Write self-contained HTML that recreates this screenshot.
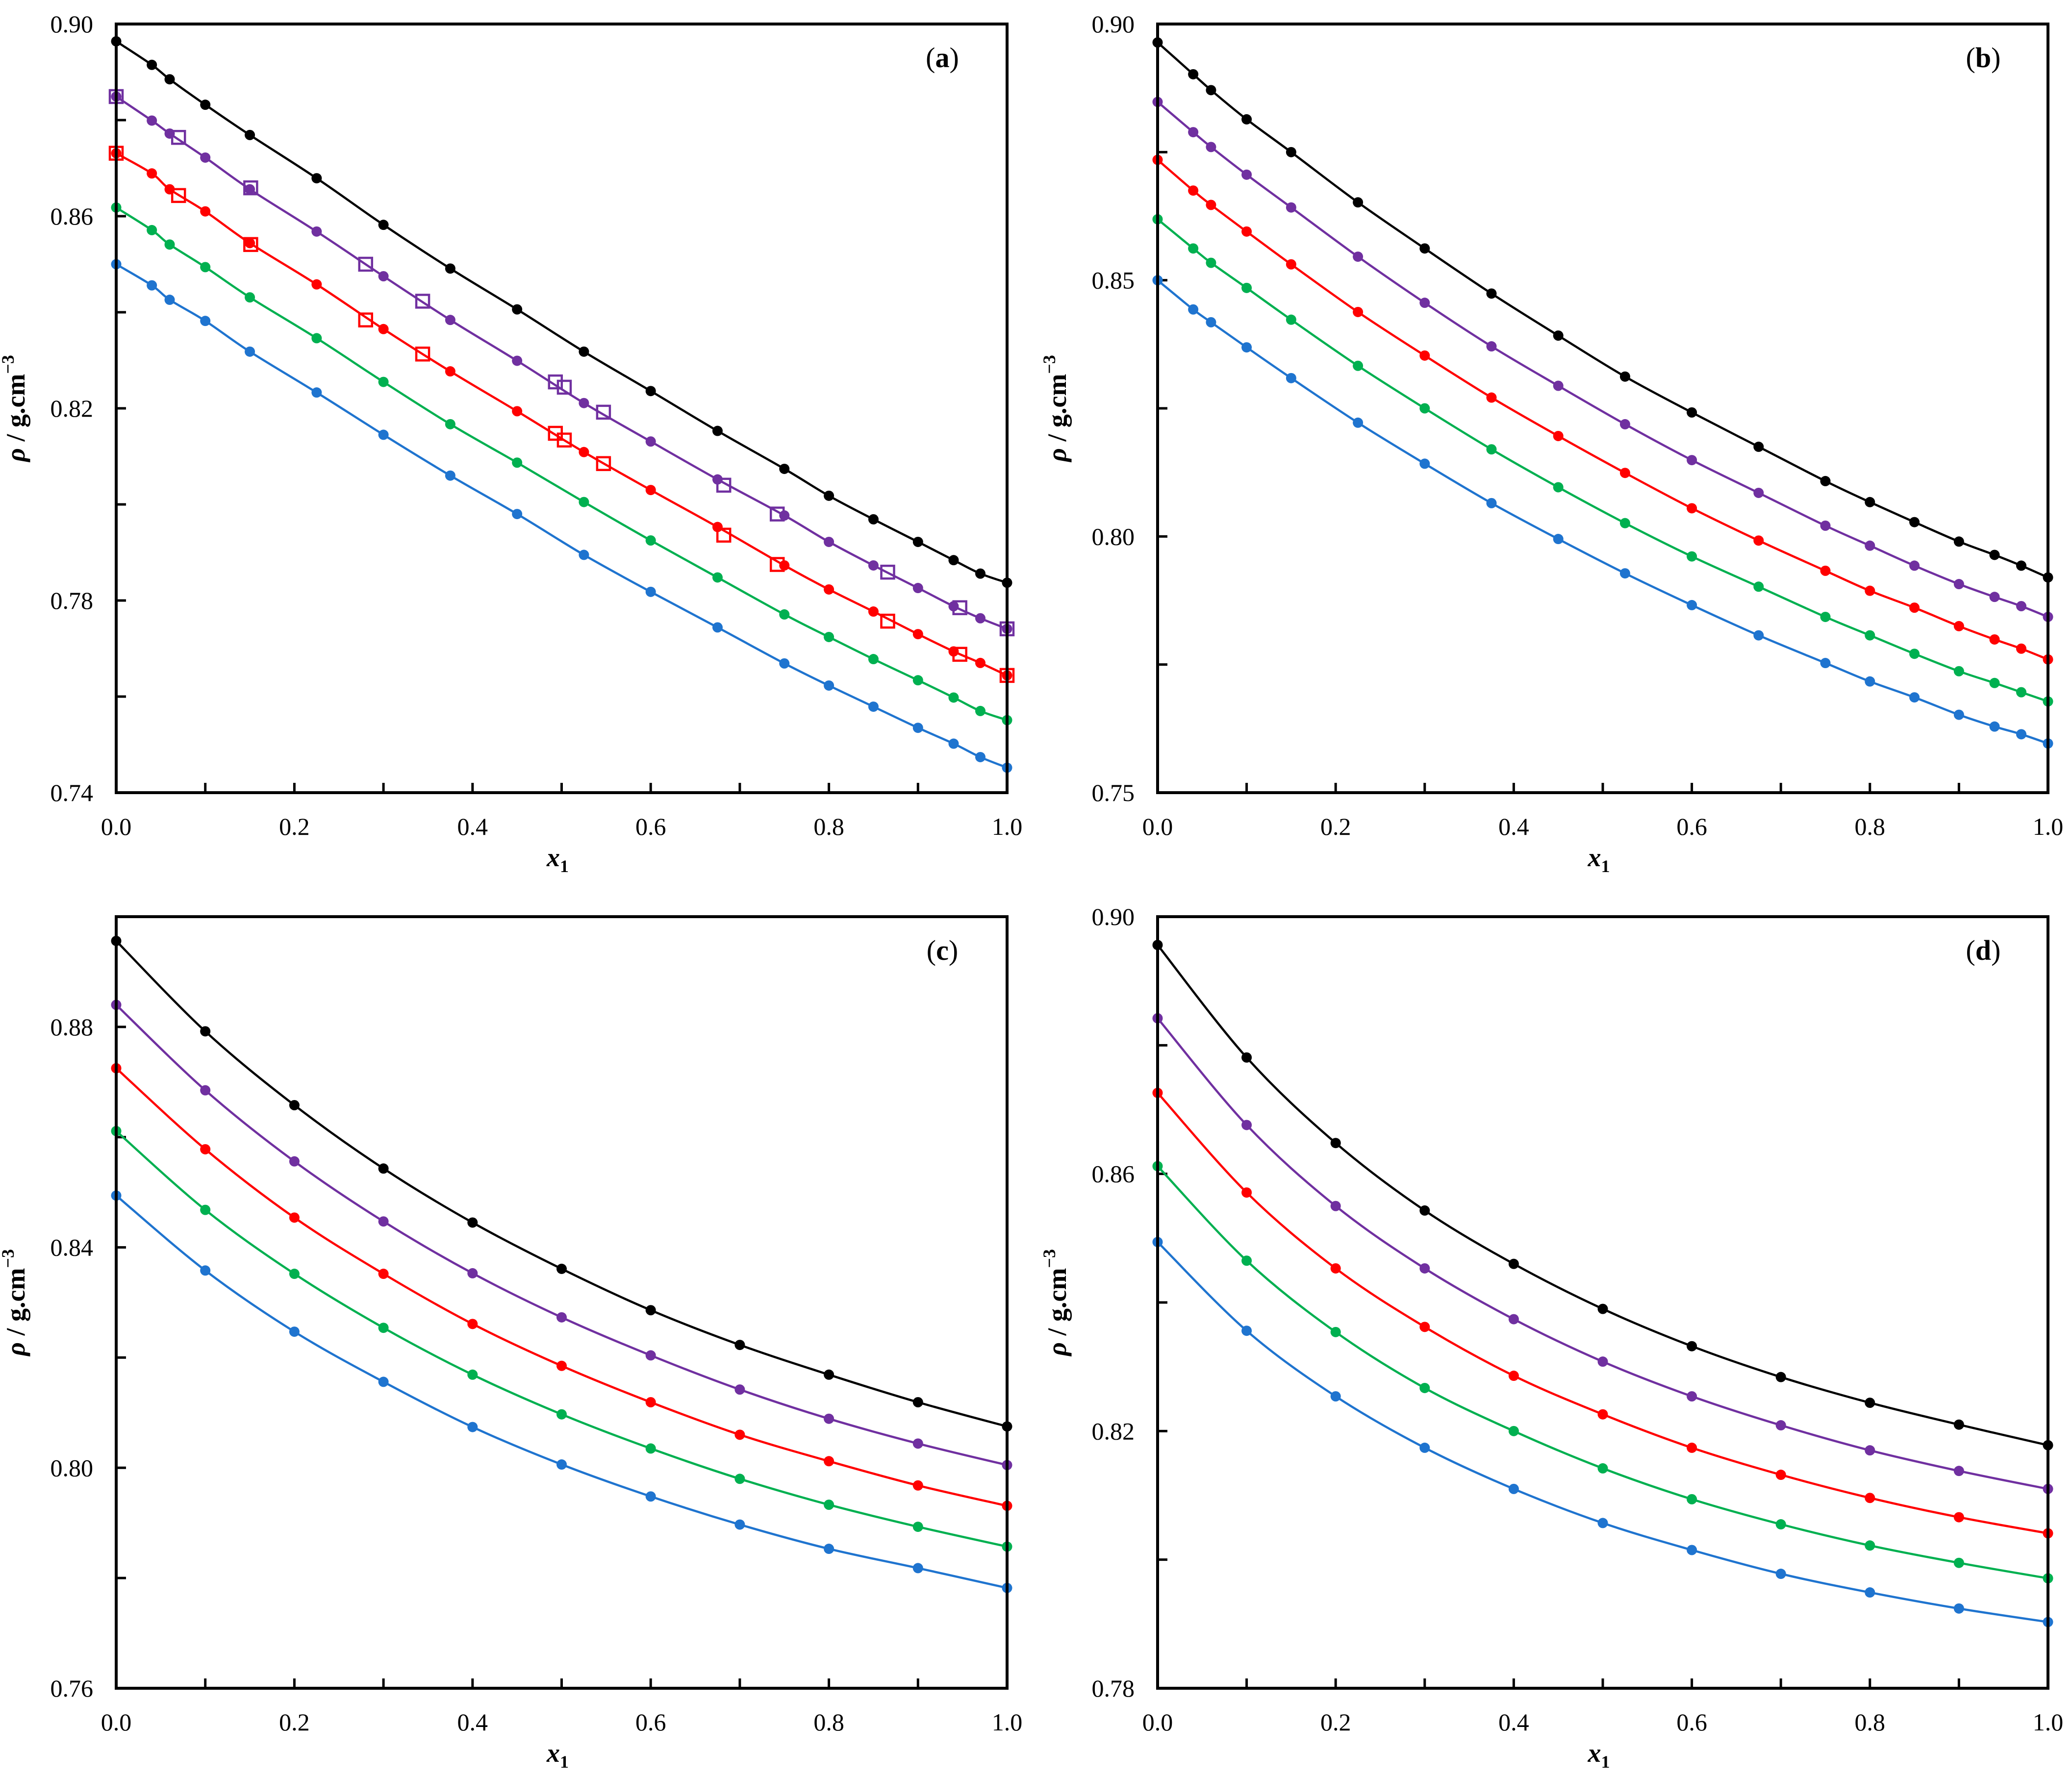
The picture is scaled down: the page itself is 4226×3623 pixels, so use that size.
<!DOCTYPE html>
<html><head><meta charset="utf-8">
<style>
html,body{margin:0;padding:0;background:#fff;}
svg{display:block;font-family:"Liberation Serif",serif;}
</style></head>
<body>
<svg id="fig" width="4226" height="3623" viewBox="0 0 4226 3623" xmlns="http://www.w3.org/2000/svg"></svg>
<script>
const xA = [0,0.04,0.06,0.1,0.15,0.225,0.3,0.375,0.45,0.525,0.6,0.675,0.75,0.8,0.85,0.9,0.94,0.97,1.0];
const xC = [0,0.1,0.2,0.3,0.4,0.5,0.6,0.7,0.8,0.9,1.0];

const aBlack  = [0.8964,0.8915,0.8885,0.8832,0.8769,0.8679,0.8582,0.8491,0.8406,0.8318,0.8236,0.8153,0.8074,0.8018,0.7969,0.7922,0.7884,0.7856,0.7837];
const aPurple = [0.8849,0.8799,0.8772,0.8722,0.8656,0.8568,0.8475,0.8384,0.8299,0.8211,0.8131,0.8052,0.7977,0.7922,0.7873,0.7826,0.7788,0.7763,0.7741];
const aRed    = [0.8731,0.8689,0.8656,0.8610,0.8544,0.8458,0.8365,0.8277,0.8194,0.8109,0.8030,0.7953,0.7873,0.7823,0.7777,0.7730,0.7694,0.7670,0.7644];
const aGreen  = [0.8618,0.8571,0.8541,0.8494,0.8431,0.8346,0.8255,0.8167,0.8087,0.8005,0.7925,0.7848,0.7771,0.7724,0.7678,0.7634,0.7598,0.7570,0.7551];
const aBlue   = [0.8500,0.8456,0.8426,0.8382,0.8318,0.8233,0.8145,0.8060,0.7980,0.7895,0.7818,0.7744,0.7669,0.7623,0.7579,0.7535,0.7502,0.7474,0.7452];

const xSq = [0,0.07,0.151,0.28,0.344,0.493,0.503,0.547,0.682,0.742,0.866,0.947,1.0];
const sqPurple = [0.8849,0.8764,0.8659,0.8500,0.8423,0.8255,0.8244,0.8192,0.8040,0.7980,0.7859,0.7785,0.7741];
const sqRed    = [0.8731,0.8643,0.8541,0.8384,0.8313,0.8148,0.8134,0.8085,0.7936,0.7875,0.7757,0.7688,0.7644];

const bBlack  = [0.8964,0.8902,0.8871,0.8814,0.8750,0.8652,0.8562,0.8474,0.8392,0.8312,0.8242,0.8175,0.8108,0.8067,0.8028,0.7990,0.7964,0.7943,0.7920];
const bPurple = [0.8848,0.8789,0.8760,0.8706,0.8642,0.8546,0.8456,0.8371,0.8294,0.8219,0.8149,0.8085,0.8021,0.7982,0.7943,0.7907,0.7882,0.7864,0.7843];
const bRed    = [0.8735,0.8675,0.8647,0.8595,0.8531,0.8438,0.8353,0.8271,0.8196,0.8124,0.8055,0.7992,0.7933,0.7894,0.7861,0.7825,0.7799,0.7781,0.7760];
const bGreen  = [0.8619,0.8562,0.8534,0.8485,0.8423,0.8333,0.8250,0.8170,0.8096,0.8026,0.7961,0.7902,0.7843,0.7807,0.7771,0.7737,0.7714,0.7696,0.7678];
const bBlue   = [0.8500,0.8443,0.8418,0.8369,0.8309,0.8222,0.8142,0.8065,0.7995,0.7928,0.7866,0.7807,0.7753,0.7717,0.7686,0.7652,0.7629,0.7614,0.7596];

const cBlack  = [0.8956,0.8792,0.8658,0.8543,0.8445,0.8361,0.8286,0.8223,0.8169,0.8119,0.8075];
const cPurple = [0.8840,0.8685,0.8556,0.8447,0.8353,0.8273,0.8204,0.8142,0.8089,0.8044,0.8005];
const cRed    = [0.8725,0.8578,0.8454,0.8352,0.8261,0.8185,0.8119,0.8060,0.8012,0.7968,0.7931];
const cGreen  = [0.8611,0.8468,0.8352,0.8254,0.8169,0.8097,0.8035,0.7980,0.7933,0.7893,0.7857];
const cBlue   = [0.8494,0.8358,0.8247,0.8156,0.8074,0.8006,0.7948,0.7897,0.7853,0.7818,0.7782];

const dBlack  = [0.8956,0.8781,0.8648,0.8543,0.8460,0.8390,0.8332,0.8284,0.8244,0.8210,0.8178];
const dPurple = [0.8842,0.8676,0.8550,0.8453,0.8374,0.8308,0.8254,0.8209,0.8170,0.8138,0.8110];
const dRed    = [0.8726,0.8571,0.8453,0.8362,0.8286,0.8226,0.8174,0.8132,0.8096,0.8066,0.8041];
const dGreen  = [0.8612,0.8465,0.8354,0.8267,0.8200,0.8142,0.8094,0.8055,0.8022,0.7995,0.7971];
const dBlue   = [0.8494,0.8356,0.8254,0.8174,0.8110,0.8057,0.8015,0.7978,0.7949,0.7924,0.7903];

const xTickLabels = ["0.0","0.2","0.4","0.6","0.8","1.0"];
const aYLabels = ["0.74","0.78","0.82","0.86","0.90"];
const bYLabels = ["0.75","0.80","0.85","0.90"];
const cYLabels = ["0.76","0.80","0.84","0.88"];
const dYLabels = ["0.78","0.82","0.86","0.90"];

const COLORS = {black:"#000000", purple:"#7030A0", red:"#FF0000", green:"#00B050", blue:"#1F74CF"};
const NS = "http://www.w3.org/2000/svg";
const svg = document.getElementById("fig");

function mk(tag, attrs, parent){
  const e = document.createElementNS(NS, tag);
  for (const k in attrs) e.setAttribute(k, attrs[k]);
  (parent||svg).appendChild(e);
  return e;
}

function smoothPath(pts){
  let d = "M" + pts[0][0].toFixed(1) + "," + pts[0][1].toFixed(1);
  for (let i=0;i<pts.length-1;i++){
    const p0 = pts[i-1]||pts[i], p1 = pts[i], p2 = pts[i+1], p3 = pts[i+2]||p2;
    const c1x = p1[0]+(p2[0]-p0[0])/6, c1y = p1[1]+(p2[1]-p0[1])/6;
    const c2x = p2[0]-(p3[0]-p1[0])/6, c2y = p2[1]-(p3[1]-p1[1])/6;
    d += " C"+c1x.toFixed(1)+","+c1y.toFixed(1)+" "+c2x.toFixed(1)+","+c2y.toFixed(1)+" "+p2[0].toFixed(1)+","+p2[1].toFixed(1);
  }
  return d;
}

function panel(cfg){
  const g = mk("g", {});
  
  
  const L=cfg.L, R=cfg.R, T=cfg.T, B=cfg.B;
  const sx = v => L + (v-0)/(1-0)*(R-L);
  const sy = v => B - (v-cfg.ymin)/(cfg.ymax-cfg.ymin)*(B-T);

  // ticks (inward)
  for (let i=0;i<=10;i++){
    const x = sx(i/10);
    const t = mk("line", {x1:x, x2:x, y1:B, y2:B-20, stroke:"#000", "stroke-width":5}, g);
    
    
  }
  const nMinor = Math.round((cfg.ymax-cfg.ymin)/cfg.minor);
  for (let i=0;i<=nMinor;i++){
    const y = sy(cfg.ymin + i*cfg.minor);
    const t = mk("line", {x1:L, x2:L+20, y1:y, y2:y, stroke:"#000", "stroke-width":5}, g);
    
    
  }
  // series
  cfg.series.forEach(s => {
    const pts = cfg.x.map((xv,i)=>[sx(xv), sy(s.v[i])]);
    const p = mk("path", {d:smoothPath(pts), fill:"none", stroke:COLORS[s.c], "stroke-width":4.5}, g);
    
    
    pts.forEach(pt => {
      const c = mk("circle", {cx:pt[0], cy:pt[1], r:10.5, fill:COLORS[s.c]}, g);
      
      
    });
  });
  (cfg.squares||[]).forEach(s => {
    s.v.forEach((v,i) => {
      const r = mk("rect", {x:sx(s.x[i])-13, y:sy(v)-13, width:26, height:26, fill:"none", stroke:COLORS[s.c], "stroke-width":4.5}, g);
      
      
    });
  });
  // frame
  const f = mk("rect", {x:L, y:T, width:R-L, height:B-T, fill:"none", stroke:"#000", "stroke-width":6}, g);
  
  
  // x labels
  xTickLabels.forEach(lbl => {
    const t = mk("text", {x:sx(parseFloat(lbl)), y:B+86, "font-size":50, "text-anchor":"middle"}, g);
    t.textContent = lbl;
    
    
  });
  cfg.ylabels.forEach(lbl => {
    const t = mk("text", {x:L-47, y:sy(parseFloat(lbl))+17, "font-size":50, "text-anchor":"end"}, g);
    t.textContent = lbl;
    
    
  });
  // x title
  const xt = mk("text", {x:(L+R)/2-8, y:B+150, "font-size":54, "font-weight":"bold", "text-anchor":"middle"}, g);
  
  
  const xi = mk("tspan", {"font-style":"italic"}, xt); xi.textContent = "x";
  const xs = mk("tspan", {"font-size":36, dy:12}, xt); xs.textContent = "1";
  // y title
  const cy = (T+B)/2, cx = L-187;
  const yt = mk("text", {x:cx, y:cy, "font-size":54, "font-weight":"bold", "text-anchor":"middle", transform:"rotate(-90 "+cx+" "+cy+")"}, g);
  
  
  const r1 = mk("tspan", {"font-style":"italic"}, yt); r1.textContent = "ρ";
  const r2 = mk("tspan", {}, yt); r2.textContent = " / g.cm";
  const r3 = mk("tspan", {"font-size":36, dy:-22}, yt); r3.textContent = "−3";
  // panel tag
  const pt = mk("text", {x:R-132, y:T+88, "font-size":58, "text-anchor":"middle"}, g);
  
  
  const p1 = mk("tspan", {}, pt); p1.textContent = "(";
  const p2 = mk("tspan", {"font-weight":"bold"}, pt); p2.textContent = cfg.tag;
  const p3 = mk("tspan", {}, pt); p3.textContent = ")";
}

panel({tag:"a", L:237, R:2054, T:49, B:1617, ymin:0.74, ymax:0.90, minor:0.02, ylabels:aYLabels, x:xA,
  series:[{c:"black",v:aBlack},{c:"purple",v:aPurple},{c:"red",v:aRed},{c:"green",v:aGreen},{c:"blue",v:aBlue}],
  squares:[{c:"purple",x:xSq,v:sqPurple},{c:"red",x:xSq,v:sqRed}]});
panel({tag:"b", L:2361, R:4177, T:49, B:1617, ymin:0.75, ymax:0.90, minor:0.025, ylabels:bYLabels, x:xA,
  series:[{c:"black",v:bBlack},{c:"purple",v:bPurple},{c:"red",v:bRed},{c:"green",v:bGreen},{c:"blue",v:bBlue}]});
panel({tag:"c", L:237, R:2054, T:1870, B:3444, ymin:0.76, ymax:0.90, minor:0.02, ylabels:cYLabels, x:xC,
  series:[{c:"black",v:cBlack},{c:"purple",v:cPurple},{c:"red",v:cRed},{c:"green",v:cGreen},{c:"blue",v:cBlue}]});
panel({tag:"d", L:2361, R:4177, T:1870, B:3444, ymin:0.78, ymax:0.90, minor:0.02, ylabels:dYLabels, x:xC,
  series:[{c:"black",v:dBlack},{c:"purple",v:dPurple},{c:"red",v:dRed},{c:"green",v:dGreen},{c:"blue",v:dBlue}]});
</script>
</body></html>
